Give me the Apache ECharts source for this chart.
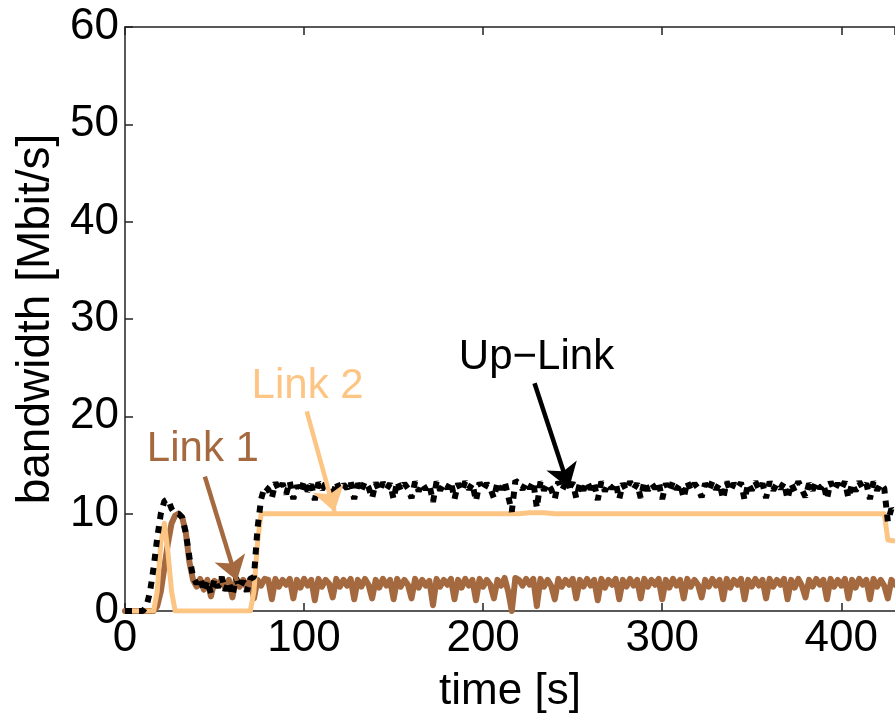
<!DOCTYPE html>
<html>
<head>
<meta charset="utf-8">
<script src="https://cdn.jsdelivr.net/npm/echarts@6/dist/echarts.min.js"></script>
<style>
html,body{margin:0;padding:0;background:#fff;}
#chart{width:895px;height:719px;}
</style>
</head>
<body>
<div id="chart"></div>
<script>
// ---------- data ----------
const xTicks = [0, 100, 200, 300, 400];
const yTicks = [0, 10, 20, 30, 40, 50, 60];

// Link 2: piecewise path (time [s], bandwidth [Mbit/s])
const link2Time = [0, 16, 18, 20, 22, 24, 26, 28, 70, 72, 74, 76, 78, 220, 226, 234, 240, 424, 426, 430];
const link2Bw   = [0, 0, 2, 7, 9, 6, 2, 0, 0, 2, 7, 10, 10, 10, 10.1, 10.1, 10, 10, 7.3, 7.2];

// Sampled series every 2 s from 0 s to 430 s
const sampleStep = 2;
const link1Bw = [
  0,0,0,0,0,0,0,0,0,0.5,
  2,4.5,7,9,9.8,10,9.6,8,5,3.2,
  2.5,3.3,2.2,3.2,1.5,3.1,2.6,3.3,2.3,3.2,
  1.4,3.3,2.5,3.2,2.4,3.3,1.3,3.2,2.6,3.3,
  3.2,1.2,3.3,2.5,3.2,2.7,3.3,1.3,3.2,2.4,
  3.3,2.6,3.2,1.1,3.3,2.5,3.2,2.8,1.4,3.3,
  2.5,3.2,2.6,3.3,1.2,3.2,2.5,3.3,2.7,1.3,
  3.2,2.4,3.3,2.6,3.2,1.2,3.3,2.5,3.2,2.7,
  1.3,3.3,2.4,3.2,2.6,3.1,0.6,3.3,2.5,3.2,
  2.7,3.3,1.2,3.2,2.4,3.3,2.6,3.2,1.1,3.3,
  2.5,3.2,2.7,1.3,3.2,2.6,3.4,2.0,0,3.4,
  3.2,2.6,3.3,2.7,3.3,0.5,3.3,2.5,3.2,2.6,
  1.2,3.3,2.5,3.2,2.7,3.3,1.3,3.2,2.5,3.3,
  2.6,3.2,1.1,3.3,2.4,3.2,2.7,3.3,1.2,3.2,
  2.5,3.3,2.6,3.2,1.3,3.3,2.5,3.2,2.7,3.3,
  1.2,3.2,2.4,3.3,2.6,3.2,1.3,3.3,2.5,3.2,
  2.7,1.4,3.2,2.5,3.3,2.6,3.2,1.2,3.3,2.4,
  3.2,2.7,3.3,1.2,3.2,2.5,3.3,2.6,3.2,1.3,
  3.3,2.5,3.2,2.7,3.3,1.2,3.2,2.4,3.3,2.6,
  1.4,3.2,2.5,3.3,2.7,3.2,1.2,3.3,2.5,3.2,
  2.6,3.3,1.3,3.2,2.4,3.3,2.7,3.2,1.2,3.3,
  2.5,3.2,2.6,1.3,3.2,2.7
];
const upLinkBw = [
  0,0,0,0,0,0,0.5,2,4.5,7.5,
  10,11.3,11.5,10.5,10,10,9.6,8,5.5,3.5,
  2.8,3.4,2.0,3.1,1.8,3.3,2.4,3.5,2.1,3.0,
  1.6,3.4,2.4,3.1,2.0,3.3,3.5,8.5,11.5,12.8,
  12.5,11.6,13.2,12.4,13.1,12.0,13.3,11.5,12.9,12.2,
  13.4,12.3,13.0,11.4,13.2,12.5,13.1,12.6,11.6,13.3,
  12.4,13.0,12.6,13.3,11.5,13.1,12.4,13.3,12.7,11.6,
  13.2,12.3,13.2,12.5,13.1,11.5,13.3,12.4,13.1,12.6,
  11.6,13.3,12.3,13.1,12.5,13.0,11.2,13.3,12.4,13.1,
  12.6,13.3,11.5,13.1,12.3,13.3,12.5,13.1,11.3,13.2,
  12.4,13.1,12.6,11.6,13.2,12.5,13.3,11.8,10.2,13.4,
  13.1,12.5,13.2,12.6,13.3,10.6,13.3,12.4,13.1,12.5,
  11.5,13.3,12.4,13.1,12.6,13.2,11.6,13.1,12.4,13.3,
  12.5,13.1,11.4,13.3,12.3,13.1,12.6,13.2,11.5,13.1,
  12.4,13.3,12.5,13.1,11.6,13.3,12.4,13.1,12.6,13.2,
  11.5,13.1,12.3,13.3,12.5,13.1,11.6,13.3,12.4,13.1,
  12.6,11.7,13.1,12.4,13.3,12.5,13.1,11.5,13.3,12.3,
  13.1,12.6,13.2,11.4,13.1,12.4,13.3,12.5,13.1,11.6,
  13.3,12.4,13.1,12.6,13.2,11.5,13.1,12.3,13.3,12.5,
  11.7,13.1,12.4,13.3,12.6,13.1,11.5,13.3,12.4,13.1,
  12.5,13.3,11.6,13.1,12.3,13.3,12.6,13.1,11.5,13.3,
  12.4,13.1,12.6,9.2,10.5,10.0
];

// Annotations: label positions and arrows (data coordinates)
const labelText  = ['Link 1', 'Link 2', 'Up\u2212Link'];
const labelPos   = [[43.5, 16.6], [102, 23.1], [229.8, 26.1]];
const arrowStart = [[44.6, 13.8], [101.5, 20.5], [228.7, 23.4]];
const arrowEnd   = [[62.5, 3.1], [117, 10.2], [248, 12.6]];

// ---------- build ----------
const C_LINK1 = '#A5693F';
const C_LINK2 = '#FDC583';
const C_UP = '#000000';
const FONT = 'Liberation Sans, Arial, Helvetica, sans-serif';

const link1Data = link1Bw.map((v, i) => [i * sampleStep, v]);
const upData = upLinkBw.map((v, i) => [i * sampleStep, v]);
const link2Data = link2Time.map((t, i) => [t, link2Bw[i]]);

function annot(k, color) {
  return {
    markLine: {
      silent: true, animation: false,
      symbol: ['none', 'arrow'], symbolSize: 24,
      label: { show: false },
      lineStyle: { color: color, width: 4.5, type: 'solid' },
      itemStyle: { color: color },
      data: [[{ coord: arrowStart[k] }, { coord: arrowEnd[k] }]]
    },
    markPoint: {
      silent: true, animation: false,
      symbol: 'circle', symbolSize: 0,
      label: { show: true, position: 'inside', formatter: labelText[k], color: color,
               fontSize: 42, fontFamily: FONT },
      data: [{ coord: labelPos[k] }]
    }
  };
}

const chart = echarts.init(document.getElementById('chart'), null, { renderer: 'canvas' });
const axisLineStyle = { color: '#222', width: 1.5 };
chart.setOption({
  backgroundColor: '#fff',
  animation: false,
  grid: { left: 125, top: 27, width: 771, height: 592, containLabel: false },
  xAxis: [{
    type: 'value', min: xTicks[0], max: 430, interval: xTicks[1] - xTicks[0],
    name: 'time [s]', nameLocation: 'middle', nameGap: 59,
    nameTextStyle: { fontSize: 44, fontFamily: FONT, color: '#000' },
    axisLine: { show: true, onZero: false, lineStyle: axisLineStyle },
    axisTick: { show: true, inside: true, length: 8, lineStyle: axisLineStyle },
    axisLabel: { fontSize: 44, fontFamily: FONT, color: '#000', margin: 6,
                 showMaxLabel: false },
    splitLine: { show: false }
  }, {
    type: 'value', position: 'top', min: xTicks[0], max: 430, interval: xTicks[1] - xTicks[0],
    axisLine: { show: true, onZero: false, lineStyle: axisLineStyle },
    axisTick: { show: true, inside: true, length: 8, lineStyle: axisLineStyle },
    axisLabel: { show: false }, splitLine: { show: false }
  }],
  yAxis: [{
    type: 'value', min: yTicks[0], max: yTicks[yTicks.length - 1], interval: yTicks[1] - yTicks[0],
    name: 'bandwidth [Mbit/s]', nameLocation: 'middle', nameGap: 64,
    nameTextStyle: { fontSize: 46, fontFamily: FONT, color: '#000' },
    axisLine: { show: true, onZero: false, lineStyle: axisLineStyle },
    axisTick: { show: true, inside: true, length: 8, lineStyle: axisLineStyle },
    axisLabel: { fontSize: 44, fontFamily: FONT, color: '#000', margin: 6 },
    splitLine: { show: false }
  }],
  series: [
    Object.assign({
      name: 'Link 1', type: 'line', data: link1Data, showSymbol: false, symbol: 'none',
      lineStyle: { color: C_LINK1, width: 6, join: 'round', cap: 'round' },
      itemStyle: { color: C_LINK1 }, z: 2
    }, annot(0, C_LINK1)),
    Object.assign({
      name: 'Link 2', type: 'line', data: link2Data, showSymbol: false, symbol: 'none',
      lineStyle: { color: C_LINK2, width: 5, join: 'round' },
      itemStyle: { color: C_LINK2 }, z: 3
    }, annot(1, C_LINK2)),
    Object.assign({
      name: 'Up-Link', type: 'line', data: upData, showSymbol: false, symbol: 'none',
      lineStyle: { color: C_UP, width: 6, type: [7, 7] },
      itemStyle: { color: C_UP }, z: 4
    }, annot(2, C_UP))
  ]
});
</script>
</body>
</html>
